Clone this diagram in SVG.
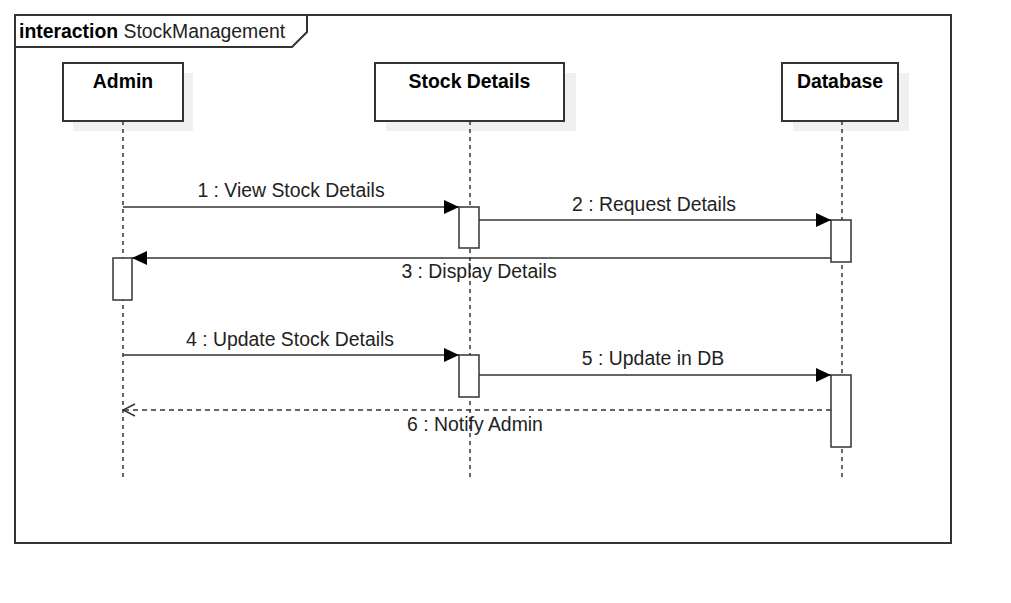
<svg xmlns="http://www.w3.org/2000/svg" width="1011" height="603" viewBox="0 0 1011 603">
<defs>
<marker id="filled" viewBox="0 0 15 14" refX="15" refY="7" markerWidth="15" markerHeight="14" markerUnits="userSpaceOnUse" orient="auto">
<path d="M0,0 L15,7 L0,14 Z" fill="#000"/>
</marker>
<marker id="open" viewBox="0 0 14 14" refX="13" refY="7" markerWidth="14" markerHeight="14" markerUnits="userSpaceOnUse" orient="auto">
<path d="M1,1 L13,7 L1,13" fill="none" stroke="#333" stroke-width="1.5"/>
</marker>
</defs>
<style>
text{font-family:"Liberation Sans",Arial,sans-serif;font-size:19.4px;fill:#222}
.b{font-weight:bold;fill:#000}
.box{fill:#fff;stroke:#333;stroke-width:2}
.shadow{fill:#f0f0f0}
.life{stroke:#333;stroke-width:1.5;stroke-dasharray:4,4;fill:none}
.act{fill:#fff;stroke:#333;stroke-width:1.5}
.msg{stroke:#333;stroke-width:1.5;fill:none}
.ret{stroke:#333;stroke-width:1.5;fill:none;stroke-dasharray:5,4}
</style>
<rect width="1011" height="603" fill="#fff"/>
<g id="frame">
<rect x="15" y="15" width="936" height="528" fill="none" stroke="#333" stroke-width="2"/>
<path d="M15,47 L292,47 L307,32 L307,15" fill="none" stroke="#333" stroke-width="2"/>
<text x="19" y="38"><tspan class="b">interaction</tspan> StockManagement</text>
</g>
<g id="admin">
<rect class="shadow" x="73" y="73" width="120" height="58"/>
<rect class="box" x="63" y="63" width="120" height="58"/>
<text class="b" x="123" y="88" text-anchor="middle">Admin</text>
<line class="life" x1="123" y1="121" x2="123" y2="478"/>
</g>
<g id="stock">
<rect class="shadow" x="386" y="73" width="190" height="58"/>
<rect class="box" x="375" y="63" width="189" height="58"/>
<text class="b" x="469.5" y="88" text-anchor="middle">Stock Details</text>
<line class="life" x1="470" y1="121" x2="470" y2="478"/>
</g>
<g id="database">
<rect class="shadow" x="793" y="73" width="116" height="58"/>
<rect class="box" x="782" y="63" width="116" height="58"/>
<text class="b" x="840" y="88" text-anchor="middle">Database</text>
<line class="life" x1="842" y1="121" x2="842" y2="478"/>
</g>
<g id="activations">
<rect class="act" x="459" y="207" width="20" height="41"/>
<rect class="act" x="831" y="220" width="20" height="42"/>
<rect class="act" x="113" y="258" width="19" height="42"/>
<rect class="act" x="459" y="355" width="20" height="42"/>
<rect class="act" x="831" y="375" width="20" height="72"/>
</g>
<g id="connectors">
<line class="msg" x1="123" y1="207" x2="459" y2="207" marker-end="url(#filled)"/>
<text x="291" y="197" text-anchor="middle">1 : View Stock Details</text>
<line class="msg" x1="479" y1="220" x2="831" y2="220" marker-end="url(#filled)"/>
<text x="654" y="211" text-anchor="middle">2 : Request Details</text>
<line class="msg" x1="831" y1="258" x2="132" y2="258" marker-end="url(#filled)"/>
<text x="479" y="278" text-anchor="middle">3 : Display Details</text>
<line class="msg" x1="123" y1="355" x2="459" y2="355" marker-end="url(#filled)"/>
<text x="290" y="346" text-anchor="middle">4 : Update Stock Details</text>
<line class="msg" x1="479" y1="375" x2="831" y2="375" marker-end="url(#filled)"/>
<text x="653" y="365" text-anchor="middle">5 : Update in DB</text>
<line class="ret" x1="831" y1="410" x2="123" y2="410" marker-end="url(#open)"/>
<text x="475" y="431" text-anchor="middle">6 : Notify Admin</text>
</g>
</svg>
